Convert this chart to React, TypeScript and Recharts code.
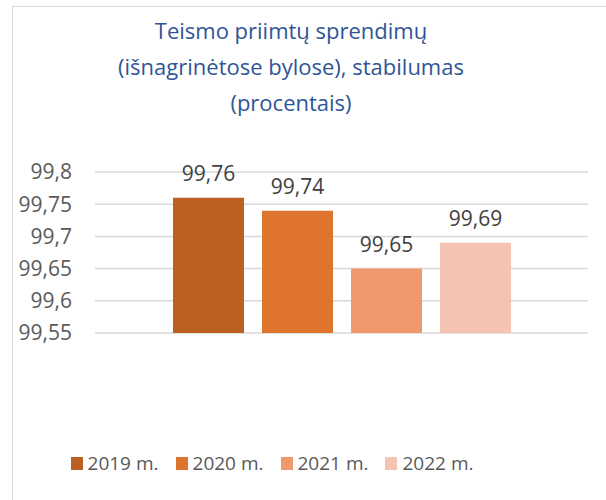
import React from "react";
import {
  BarChart,
  Bar,
  XAxis,
  YAxis,
  CartesianGrid,
  Legend,
  LabelList,
} from "recharts";

const titleLines = [
  "Teismo priimtų sprendimų",
  "(išnagrinėtose bylose), stabilumas",
  "(procentais)",
];
const seriesNames = ["2019 m.", "2020 m.", "2021 m.", "2022 m."];
const seriesValues = [99.76, 99.74, 99.65, 99.69];
const seriesColors = ["#B96022", "#DF742F", "#F0996F", "#F4C3B1"];
const yTicks = [99.55, 99.6, 99.65, 99.7, 99.75, 99.8];

const FONT = "'Open Sans', 'Noto Sans', sans-serif";

const row: Record<string, string | number> = { name: "" };
seriesNames.forEach((_, i) => {
  row["s" + i] = seriesValues[i];
});
const data = [row];

const fmt = (v: any) => String(v).replace(".", ",");

function LegendContent() {
  return (
    <div
      style={{
        display: "flex",
        justifyContent: "center",
        alignItems: "center",
        gap: 17,
        fontFamily: FONT,
        fontSize: 19,
        color: "#595959",
      }}
    >
      {seriesNames.map((n, i) => (
        <div key={n} style={{ display: "flex", alignItems: "center" }}>
          <span
            style={{
              display: "inline-block",
              width: 12,
              height: 13,
              background: seriesColors[i],
              marginRight: 5,
            }}
          />
          <span>{n}</span>
        </div>
      ))}
    </div>
  );
}

export default function App() {
  return (
    <div
      style={{
        position: "absolute",
        left: 0,
        top: 0,
        width: 606,
        height: 500,
        overflow: "hidden",
        background: "#fff",
      }}
    >
      <div
        style={{
          position: "absolute",
          left: 12,
          top: 6,
          width: 700,
          height: 700,
          border: "1.5px solid #d9d9d9",
        }}
      />
      <div
        style={{
          position: "absolute",
          left: 0,
          top: 12,
          width: 582,
          textAlign: "center",
          fontFamily: FONT,
          fontSize: 22,
          lineHeight: "36px",
          color: "#2F5597",
        }}
      >
        {titleLines.map((t) => (
          <div key={t}>{t}</div>
        ))}
      </div>
      <BarChart
        width={606}
        height={500}
        data={data}
        margin={{ top: 172, right: 18, bottom: 167, left: 0 }}
        barSize={71}
        barGap={18}
        style={{ position: "absolute", left: 0, top: 0, fontFamily: FONT }}
      >
        <CartesianGrid vertical={false} stroke="#d9d9d9" strokeWidth={1.5} />
        <XAxis dataKey="name" hide />
        <YAxis
          type="number"
          domain={[99.55, 99.8]}
          ticks={yTicks}
          interval={0}
          allowDataOverflow
          width={95}
          axisLine={false}
          tickLine={false}
          tickSize={6}
          tickMargin={17}
          tickFormatter={fmt}
          tick={{ fill: "#595959", fontSize: 21, fontFamily: FONT }}
        />
        <Legend
          layout="horizontal"
          verticalAlign="middle"
          align="center"
          wrapperStyle={{ left: 0, top: 450, width: 544, height: 26 }}
          content={() => <LegendContent />}
        />
        {seriesNames.map((n, i) => (
          <Bar
            key={n}
            dataKey={"s" + i}
            name={n}
            fill={seriesColors[i]}
            isAnimationActive={false}
          >
            <LabelList
              dataKey={"s" + i}
              position="top"
              offset={17}
              formatter={fmt}
              fill="#404040"
              fontSize={21}
              fontFamily={FONT}
            />
          </Bar>
        ))}
      </BarChart>
    </div>
  );
}
